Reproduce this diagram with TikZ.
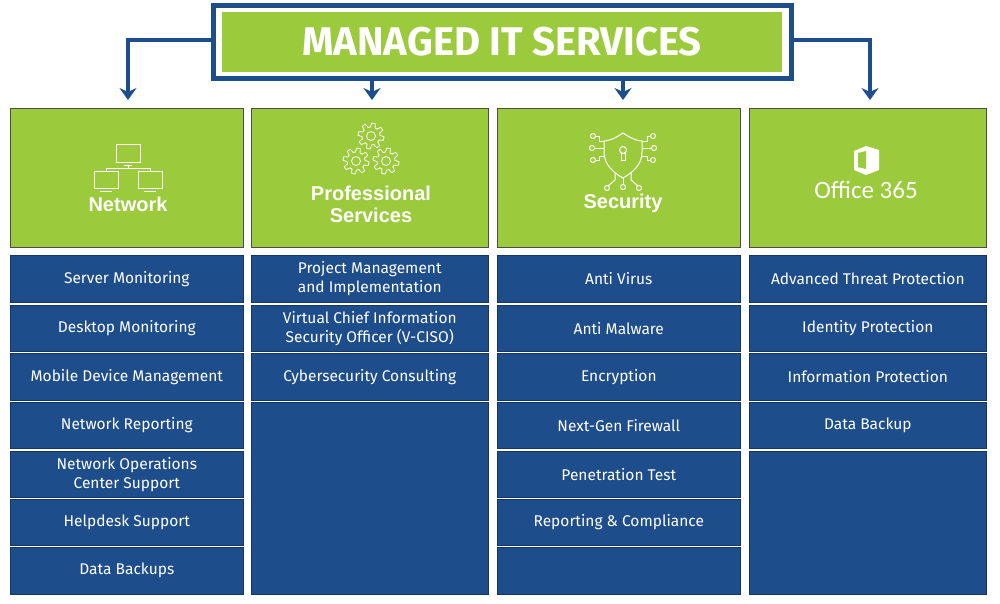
\documentclass[tikz,border=0pt]{standalone}
\usepackage{fontspec}
\setmainfont{Fira Sans}
\newfontfamily\arialf{Liberation Sans}
\newfontfamily\offf{Carlito}
\usetikzlibrary{arrows.meta}
\definecolor{lgreen}{HTML}{9BCB3C}
\definecolor{dblue}{HTML}{1E4D8C}
\begin{document}
\begin{tikzpicture}[x=1pt,y=-1pt,
  item/.style={fill=dblue,draw=dblue!70!black,line width=0.6pt,text=white,align=center,font=\fontsize{15.5}{19}\selectfont},
  cat/.style={fill=lgreen,draw=black!70,line width=0.6pt},
  catlab/.style={text=white,font=\arialf\bfseries\fontsize{20}{23}\selectfont,align=center},
  conn/.style={dblue,line width=3.5pt,-{Stealth[length=12pt,width=17pt,inset=4pt]}},
  ico/.style={white,line width=1pt}]
\useasboundingbox (0,0) rectangle (1000,603);
\fill[white] (0,0) rectangle (1000,603);
% header
\node[fill=white,draw=dblue,line width=5pt,minimum width=578pt,minimum height=73pt,anchor=north west] (hdr) at (210.5,2.5) {};
\node[fill=lgreen,minimum width=560pt,minimum height=60pt,text=white,font=\bfseries\fontsize{40}{44}\selectfont] (title) at (hdr.center) {MANAGED IT SERVICES};
% columns
\foreach \n/\xa/\xb in {1/10/243,2/251/488,3/497/740,4/749/986}{
  \node[cat,minimum width={\xb-\xa},minimum height=139pt,anchor=north west] (c\n) at (\xa,108) {};
}
\coordinate (a1) at (128,100);\coordinate (a2) at (372,100);\coordinate (a3) at (623,100);\coordinate (a4) at (870,100);
\draw[conn] (hdr.west|-0,40) -| (a1);
\draw[conn] (a2|-hdr.south) -- (a2);
\draw[conn] (a3|-hdr.south) -- (a3);
\draw[conn] (hdr.east|-0,40) -| (a4);
% labels
\node[catlab] (l1) at (128,204) {Network};
\node[catlab] (l2) at (371,204) {Professional\\[-1pt]Services};
\node[catlab] (l3) at (623,203) {Security};
\node[text=white,font=\offf\fontsize{25}{28}\selectfont] (l4) at (866,190) {Office 365};
% network icon
\begin{scope}[ico]
 \draw (116,144) rectangle (140,162); \draw (124,165)--(132,165);
 \draw (94,171) rectangle (118,188); \draw (100,191)--(112,191);
 \draw (138,171) rectangle (162,188); \draw (144,191)--(156,191);
 \draw (128,165)--(128,168) (106,171)--(106,168)--(150,168)--(150,171);
\end{scope}
% gears icon
\foreach \gx/\gy in {371/136,356/161,386/161}{
 \draw[ico,line width=0.8pt] (\gx,\gy) circle (4.5);
 \draw[ico,line width=0.8pt] plot[domain=0:360,samples=97,smooth] ({\gx+(11+2*sign(sin(8*\x)))*cos(\x)},{\gy+(11+2*sign(sin(8*\x)))*sin(\x)});
}
% shield icon
\begin{scope}[ico]
 \draw (623,133) .. controls (613,140) and (606,141) .. (604,141) -- (604,152) .. controls (604,165) and (614,173) .. (623,178) .. controls (632,173) and (642,165) .. (642,152) -- (642,141) .. controls (640,141) and (633,140) .. (623,133) -- cycle;
 \draw (623,150) circle (3.5); \draw (621,153) rectangle (625,160);
 \foreach \s in {-1,1}{
  \draw (623+\s*19,148)--(623+\s*28,148); \draw (623+\s*31,148) circle (2.5);
  \draw (623+\s*19,141)--(623+\s*24,141)--(623+\s*24,136)--(623+\s*27,136); \draw (623+\s*30,136) circle (2.5);
  \draw (623+\s*19,156)--(623+\s*24,156)--(623+\s*24,160)--(623+\s*27,160); \draw (623+\s*30,160) circle (2.5);
  \draw (623+\s*8,173)--(623+\s*8,180)--(623+\s*15,186); \draw (623+\s*16,188) circle (2.5);
 }
 \draw (623,178)--(623,184); \draw (623,187) circle (2.5);
\end{scope}
% office icon
\fill[white] (854,151)--(866,146)--(879,150)--(879,170)--(866,175)--(854,170)--cycle;
\fill[lgreen] (858,153)--(866,151)--(866,169)--(858,167)--cycle;
% items
\def\rows{{255,305,353,402,451,499,547}}
\def\rowe{{302,351,400,448,497,545,594}}
\foreach \n/\xa/\xb/\list in {
 1/10/243/{Server Monitoring,Desktop Monitoring,Mobile Device Management,Network Reporting,{Network Operations\\Center Support},Helpdesk Support,Data Backups},
 2/251/488/{{Project Management\\and Implementation},{Virtual Chief Information\\Security Officer (V-CISO)},Cybersecurity Consulting},
 3/497/740/{Anti Virus,Anti Malware,Encryption,Next-Gen Firewall,Penetration Test,Reporting \& Compliance},
 4/749/986/{Advanced Threat Protection,Identity Protection,Information Protection,Data Backup}}{
 \foreach \t [count=\i from 0] in \list {
  \pgfmathsetmacro\ya{\rows[\i]}\pgfmathsetmacro\yb{\rowe[\i]}
  \node[item,minimum width={\xb-\xa},minimum height={\yb-\ya},anchor=north west,inner sep=0pt] (i\n-\i) at (\xa,\ya) {\t};
 }
}
\node[item,minimum width=237pt,minimum height=192pt,anchor=north west] (f2) at (251,402) {};
\node[item,minimum width=243pt,minimum height=47pt,anchor=north west] (f3) at (497,547) {};
\node[item,minimum width=237pt,minimum height=143pt,anchor=north west] (f4) at (749,451) {};
\end{tikzpicture}
\end{document}
